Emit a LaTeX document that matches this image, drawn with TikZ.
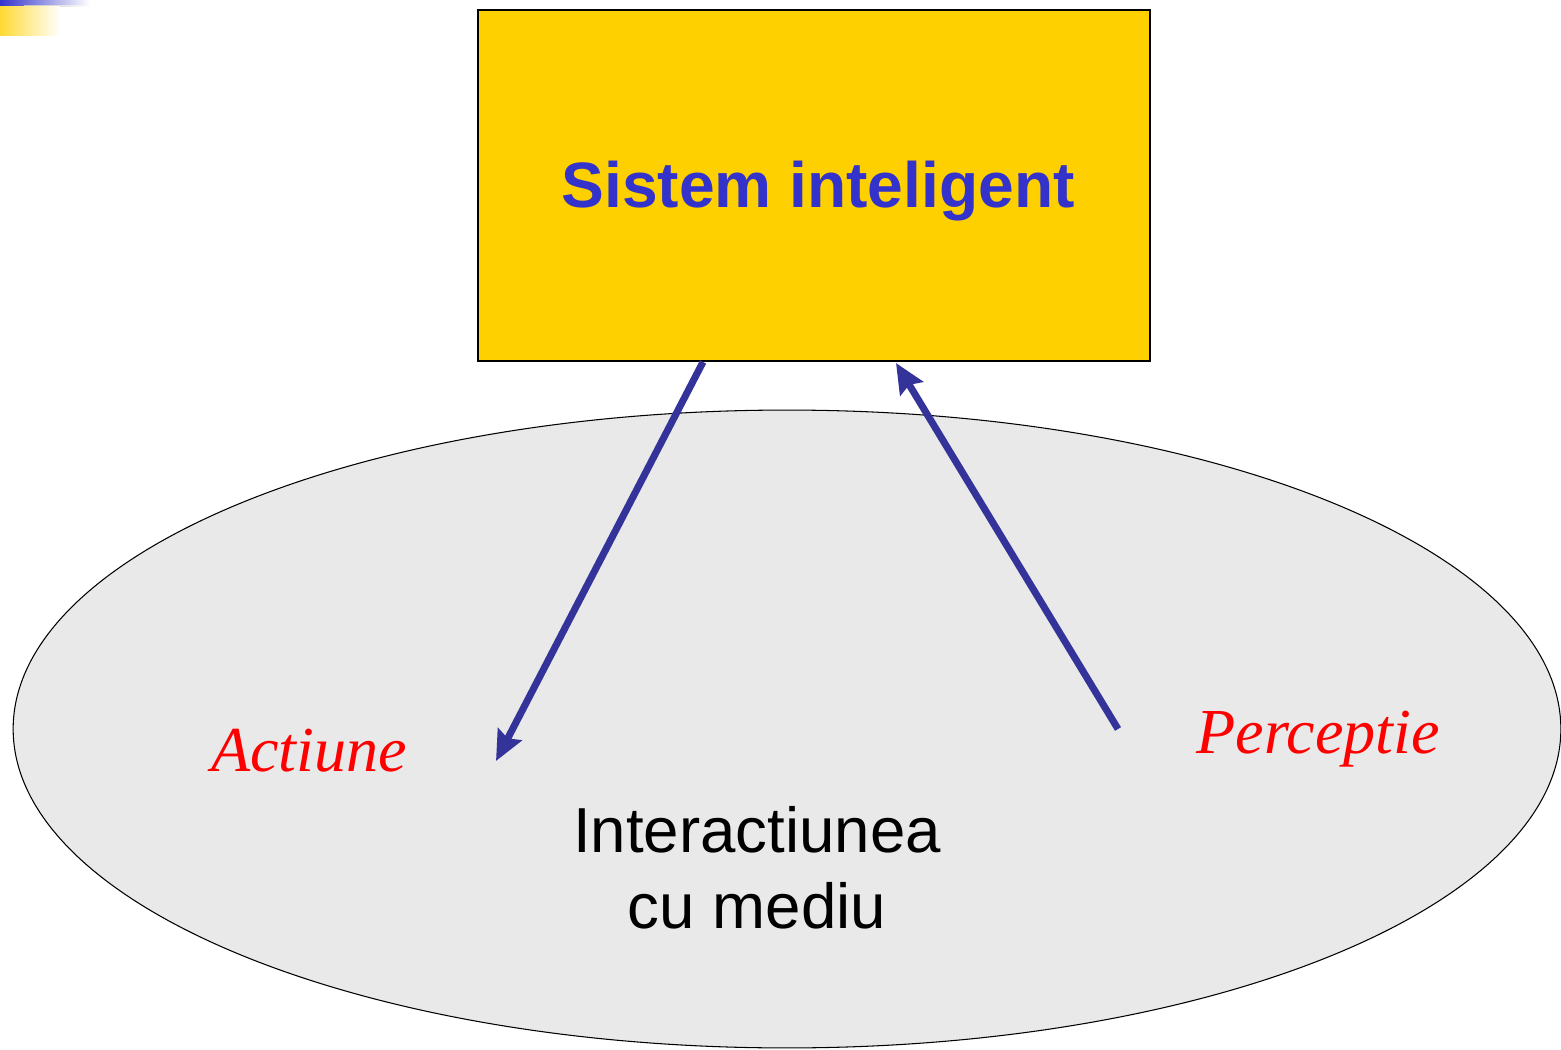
\documentclass[tikz,border=0pt]{standalone}
\usepackage{fontspec}
\setmainfont{Liberation Serif}
\setsansfont{Liberation Sans}
\usetikzlibrary{shapes.geometric, arrows.meta}

\definecolor{sysyellow}{HTML}{FFD000}
\definecolor{systext}{HTML}{3333CC}
\definecolor{arrowblue}{HTML}{333399}
\definecolor{envgray}{HTML}{E9E9E9}

\tikzset{
  sysbox/.style={draw, line width=0.8pt, fill=sysyellow, inner sep=0pt,
                 minimum width=13.44cm, minimum height=7.02cm},
  envellipse/.style={ellipse, draw, line width=0.6pt, fill=envgray, inner sep=0pt,
                     minimum width=30.96cm, minimum height=12.76cm},
  flow/.style={arrowblue, line width=4pt,
               -{Stealth[length=17pt, width=15pt, inset=2.5pt]}},
  actlabel/.style={text=red, font=\itshape\fontsize{36.5}{44}\selectfont},
}

\begin{document}
\begin{tikzpicture}[x=0.02cm, y=-0.02cm]
    \useasboundingbox (0, 0) rectangle (1561, 1050);

    % corner ornament
    \shade[left color=systext, right color=white] (0, 0) rectangle (90, 6);
    \shade[left color=gray!50, right color=white] (24, 6) rectangle (90, 7);
    \shade[left color=sysyellow!80, right color=white] (0, 7) rectangle (60, 36);

    \node[envellipse] (env) at (787, 729) {};
    \node[sysbox] (sys) at (814, 185.5) {};
    \node[text=systext, font=\sffamily\bfseries\fontsize{36.5}{44}\selectfont]
      (systitle) at (818, 191) {Sistem inteligent};

    \node[font=\sffamily\fontsize{36.2}{43}\selectfont, align=center]
      (envtitle) at (757, 868) {Interactiunea\\cu mediu};
    \node[actlabel] (act) at (309, 751) {Actiune};
    \node[actlabel] (perc) at (1318, 739) {Perceptie};

    \coordinate (actfrom) at (703, 362);
    \coordinate (actto) at (496, 761);
    \coordinate (percfrom) at (1118, 729);
    \coordinate (percto) at (896, 363);

    \draw[flow] (actfrom) -- (actto);
    \draw[flow] (percfrom) -- (percto);
\end{tikzpicture}
\end{document}
